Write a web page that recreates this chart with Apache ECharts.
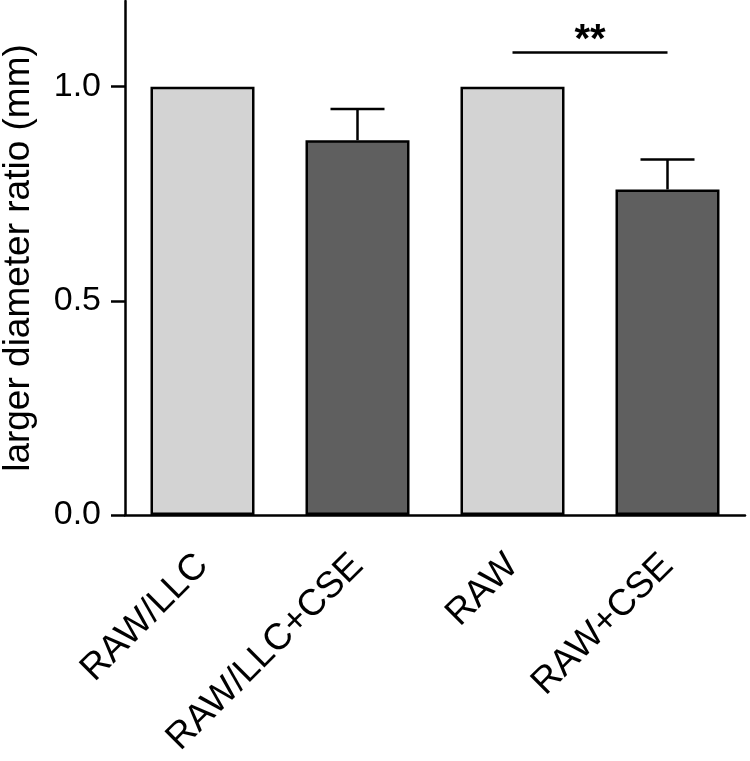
<!DOCTYPE html>
<html>
<head>
<meta charset="utf-8">
<script src="https://cdn.jsdelivr.net/npm/echarts@6/dist/echarts.min.js"></script>
<style>html,body{margin:0;padding:0;background:#fff}#c{width:750px;height:761px}</style>
</head>
<body>
<div id="c"></div>
<script>
const categories = ['RAW/LLC', 'RAW/LLC+CSE', 'RAW', 'RAW+CSE'];
const means = [1.0, 0.875, 1.0, 0.76];
const errors = [0, 0.073, 0, 0.07];
const barColors = ['#d3d3d3', '#5f5f5f', '#d3d3d3', '#5f5f5f'];
const yTicks = [0, 0.5, 1.0];
const yTickLabels = ['0.0', '0.5', '1.0'];
const sigFrom = 'RAW';
const sigTo = 'RAW+CSE';
const sigLevel = 1.08;
const sigLabel = '**';

const FONT = 'Liberation Sans, Arial, sans-serif';
const chart = echarts.init(document.getElementById('c'), null, {renderer: 'canvas'});

const barData = means.map((v, i) => ({
  value: v,
  itemStyle: {color: barColors[i], borderColor: '#000', borderWidth: 2.5}
}));
const errData = means.map((v, i) => [i, v, v + errors[i], errors[i]]);

chart.setOption({
  animation: false,
  grid: {left: 125, right: 5, top: 1, bottom: 246, containLabel: false, outerBoundsMode: 'none'},
  xAxis: {
    type: 'category',
    data: categories,
    axisLine: {lineStyle: {color: '#000', width: 2.5}},
    axisTick: {alignWithLabel: true, length: 14, lineStyle: {color: '#000', width: 2.5}},
    axisLabel: {rotate: 45, margin: 45, fontSize: 37, color: '#000', fontFamily: FONT, interval: 0}
  },
  yAxis: {
    type: 'value',
    min: 0, max: 1.2,
    name: 'larger diameter ratio (mm)',
    nameLocation: 'middle',
    nameGap: 88,
    nameTextStyle: {fontSize: 37, color: '#000', fontFamily: FONT},
    splitLine: {show: false},
    axisLine: {show: true, lineStyle: {color: '#000', width: 2.5}},
    axisTick: {show: true, length: 14, lineStyle: {color: '#000', width: 2.5}, customValues: yTicks},
    axisLabel: {
      fontSize: 34, color: '#000', fontFamily: FONT, margin: 24,
      customValues: yTicks,
      formatter: v => { const i = yTicks.findIndex(t => Math.abs(t - v) < 1e-9); return i >= 0 ? yTickLabels[i] : ''; }
    }
  },
  series: [
    {
      type: 'bar',
      data: barData,
      barWidth: 104,
      markLine: {
        silent: true,
        symbol: 'none',
        lineStyle: {color: '#000', width: 2.5, type: 'solid'},
        label: {show: true, position: 'middle', formatter: sigLabel, fontSize: 40, fontWeight: 'bold', color: '#000', fontFamily: FONT, distance: -9},
        data: [[{coord: [sigFrom, sigLevel]}, {coord: [sigTo, sigLevel]}]]
      }
    },
    {
      type: 'custom',
      data: errData,
      z: 5,
      renderItem: function (params, api) {
        if (api.value(3) <= 0) return null;
        const p0 = api.coord([api.value(0), api.value(1)]);
        const p1 = api.coord([api.value(0), api.value(2)]);
        const hw = 27;
        return {
          type: 'group',
          children: [
            {type: 'line', shape: {x1: p0[0], y1: p0[1], x2: p1[0], y2: p1[1]}, style: {stroke: '#000', lineWidth: 2.5}},
            {type: 'line', shape: {x1: p1[0] - hw, y1: p1[1], x2: p1[0] + hw, y2: p1[1]}, style: {stroke: '#000', lineWidth: 2.5}}
          ]
        };
      }
    }
  ]
});
</script>
</body>
</html>
